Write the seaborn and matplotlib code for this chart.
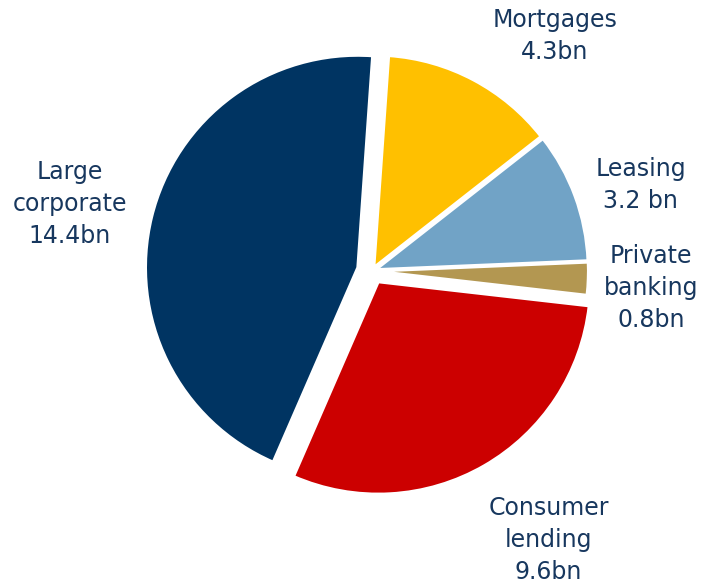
import matplotlib
matplotlib.use("Agg")
import matplotlib.pyplot as plt
import seaborn as sns

# Loan book by segment (EUR bn), clockwise from the top
segments = ["Mortgages", "Leasing", "Private banking", "Consumer lending", "Large corporate"]
values = [4.3, 3.2, 0.8, 9.6, 14.4]
labels = ["Mortgages\n4.3bn", "Leasing\n3.2 bn", "Private\nbanking\n0.8bn",
          "Consumer\nlending\n9.6bn", "Large\ncorporate\n14.4bn"]
colors = ["#FFC000", "#71A3C6", "#B39751", "#CC0000", "#003462"]
explode = [0.02, 0.02, 0.02, 0.06, 0.07]

# label anchor points in pie-radius units
label_x = [0.87, 1.28, 1.33, 0.84, -1.44]
label_y = [1.12, 0.41, -0.08, -1.28, 0.32]

sns.set_theme(style="white")
plt.rcParams["font.family"] = ["DejaVu Sans"]

W, H, DPI = 702, 583, 100
fig = plt.figure(figsize=(W / DPI, H / DPI), dpi=DPI)
ax = fig.add_axes([0, 0, 1, 1])

ax.pie(values, colors=colors, explode=explode, startangle=86, counterclock=False,
       radius=1.01, wedgeprops=dict(edgecolor="white", linewidth=2))

for lab, x, y in zip(labels, label_x, label_y):
    ax.text(x, y, lab, ha="center", va="center", fontsize=17, color="#17375E",
            linespacing=1.42)

# pixel-exact framing: centre at (372, 271), radius 210 px
cx, cy, r = 372, 271, 210
ax.set_xlim(-cx / r, (W - cx) / r)
ax.set_ylim(-(H - cy) / r, cy / r)
ax.set_aspect("auto")
ax.axis("off")

fig.savefig("out.png", dpi=DPI, facecolor="white")
